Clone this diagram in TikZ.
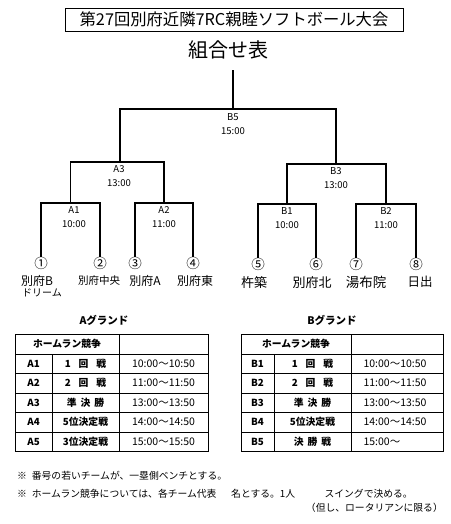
\documentclass[tikz,border=0pt]{standalone}
\usepackage{fontspec}
\setmainfont{Noto Sans CJK JP}
\begin{document}
\begin{tikzpicture}[x=1pt,y=-1pt,
  br/.style={line width=1.3pt, line join=miter},
  lbl/.style={font=\fontsize{9.5}{14}\selectfont, align=center, inner sep=0pt},
  circnum/.style={font=\fontsize{13.5}{14}\selectfont, inner sep=0pt},
  team/.style={font=\fontsize{12}{13}\selectfont, inner sep=0pt},
  tline/.style={line width=0.8pt},
  cell/.style={font=\bfseries\fontsize{9.8}{11}\selectfont, inner sep=0pt},
  tcell/.style={font=\fontsize{10.5}{11}\selectfont, inner sep=0pt},
  note/.style={font=\fontsize{9.8}{11}\selectfont, inner sep=0pt}
]
\useasboundingbox (0,0) rectangle (450,524);
\fill[white] (0,0) rectangle (450,524);

% title
\node[draw, line width=0.9pt, minimum width=338pt, minimum height=23pt, inner sep=0pt,
  font=\fontsize{16.3}{18}\selectfont] (title) at (234,19.5) {第27回別府近隣7RC親睦ソフトボール大会};
\node[font=\fontsize{20}{22}\selectfont, inner sep=0pt] (head) at (228,50) {組合せ表};

% circled numbers
\node[circnum] (n1) at (41,263.5) {①};
\node[circnum] (n2) at (100,263.5) {②};
\node[circnum] (n3) at (135,263.5) {③};
\node[circnum] (n4) at (193,263.5) {④};
\node[circnum] (n5) at (258,264.5) {⑤};
\node[circnum] (n6) at (316,264.5) {⑥};
\node[circnum] (n7) at (356,264.5) {⑦};
\node[circnum] (n8) at (416,264.5) {⑧};

% team names
\node[team] (t1) at (37,281) {別府B};
\node[team, font=\fontsize{10}{11}\selectfont] (t1b) at (42,293) {ドリーム};
\node[team, font=\fontsize{10.5}{12}\selectfont] (t2) at (99,281) {別府中央};
\node[team] (t3) at (145,281) {別府A};
\node[team] (t4) at (195,281) {別府東};
\node[team, font=\fontsize{13}{14}\selectfont] (t5) at (254,283) {杵築};
\node[team, font=\fontsize{13}{14}\selectfont] (t6) at (312,283) {別府北};
\node[team, font=\fontsize{13.5}{14}\selectfont] (t7) at (366,282) {湯布院};
\node[team, font=\fontsize{12.5}{14}\selectfont] (t8) at (420,282) {日出};

% bracket coordinates
\coordinate (A1) at (70.5,203);
\coordinate (A2) at (164,203);
\coordinate (B1) at (287,204);
\coordinate (B2) at (386,204);
\coordinate (A3) at (120,162);
\coordinate (B3) at (336,164);
\coordinate (B5) at (233,109);
\coordinate (top) at (233,70);

\draw[br] (n1.north) |- (A1) -| (n2.north);
\draw[br] (n3.north) |- (A2) -| (n4.north);
\draw[br] (n5.north) |- (B1) -| (n6.north);
\draw[br] (n7.north) |- (B2) -| (n8.north);
\draw[br] (A1) |- (A3) -| (A2);
\draw[br] (B1) |- (B3) -| (B2);
\draw[br] (A3) |- (B5) -| (B3);
\draw[br] (B5) -- (top);

% bracket labels
\node[lbl] (lA1) at (74,217) {A1\\10:00};
\node[lbl] (lA2) at (164,217) {A2\\11:00};
\node[lbl] (lB1) at (287,218) {B1\\10:00};
\node[lbl] (lB2) at (386,218.5) {B2\\11:00};
\node[lbl] (lA3) at (119,176.5) {A3\\13:00};
\node[lbl] (lB3) at (336,178) {B3\\13:00};
\node[lbl] (lB5) at (233,124.5) {B5\\15:00};

% ground titles
\node[cell, font=\bfseries\fontsize{10.5}{11}\selectfont] (ga) at (104,320) {Aグランド};
\node[cell, font=\bfseries\fontsize{10.5}{11}\selectfont] (gb) at (332,320) {Bグランド};

% A table
\draw[tline] (15,334) rectangle (208,451.5);
\foreach \yy in {354,373.5,393,412.5,432} \draw[tline] (15,\yy) -- (208,\yy);
\draw[tline] (52,354) -- (52,451.5);
\draw[tline] (119,334) -- (119,451.5);
\node[cell] (ah) at (67,344) {ホームラン競争};
\node[cell] (a11) at (33.5,363.75) {A1};
\node[cell] (a12) at (85.5,363.75) {1\hspace{0.8em}回\hspace{0.8em}戦};
\node[tcell] (a13) at (163.5,363.75) {10:00〜10:50};
\node[cell] (a21) at (33.5,383.25) {A2};
\node[cell] (a22) at (85.5,383.25) {2\hspace{0.8em}回\hspace{0.8em}戦};
\node[tcell] (a23) at (163.5,383.25) {11:00〜11:50};
\node[cell] (a31) at (33.5,402.75) {A3};
\node[cell] (a32) at (85.5,402.75) {準\hspace{0.4em}決\hspace{0.4em}勝};
\node[tcell] (a33) at (163.5,402.75) {13:00〜13:50};
\node[cell] (a41) at (33.5,422.25) {A4};
\node[cell] (a42) at (85.5,422.25) {5位決定戦};
\node[tcell] (a43) at (163.5,422.25) {14:00〜14:50};
\node[cell] (a51) at (33.5,441.75) {A5};
\node[cell] (a52) at (85.5,441.75) {3位決定戦};
\node[tcell] (a53) at (163.5,441.75) {15:00〜15:50};

% B table
\draw[tline] (241,334) rectangle (443,451.5);
\foreach \yy in {354,373.5,393,412.5,432} \draw[tline] (241,\yy) -- (443,\yy);
\draw[tline] (274,354) -- (274,451.5);
\draw[tline] (351,334) -- (351,451.5);
\node[cell] (bh) at (296,344) {ホームラン競争};
\node[cell] (b11) at (257.5,363.75) {B1};
\node[cell] (b12) at (312.5,363.75) {1\hspace{0.8em}回\hspace{0.8em}戦};
\node[tcell] (b13) at (395,363.75) {10:00〜10:50};
\node[cell] (b21) at (257.5,383.25) {B2};
\node[cell] (b22) at (312.5,383.25) {2\hspace{0.8em}回\hspace{0.8em}戦};
\node[tcell] (b23) at (395,383.25) {11:00〜11:50};
\node[cell] (b31) at (257.5,402.75) {B3};
\node[cell] (b32) at (312.5,402.75) {準\hspace{0.4em}決\hspace{0.4em}勝};
\node[tcell] (b33) at (395,402.75) {13:00〜13:50};
\node[cell] (b41) at (257.5,422.25) {B4};
\node[cell] (b42) at (312.5,422.25) {5位決定戦};
\node[tcell] (b43) at (395,422.25) {14:00〜14:50};
\node[cell] (b51) at (257.5,441.75) {B5};
\node[cell] (b52) at (312.5,441.75) {決\hspace{0.4em}勝\hspace{0.4em}戦};
\node[tcell, anchor=west] (b53) at (b43.west |- 0,441.75) {15:00〜};

% notes
\node[note, anchor=west] (note1) at (17,476) {※\hspace{0.5em}番号の若いチームが、一塁側ベンチとする。};
\node[note, anchor=west] (note2) at (17,494) {※\hspace{0.5em}ホームラン競争については、各チーム代表\hspace{1.5em}名とする。1人\hspace{3em}スイングで決める。};
\node[note, anchor=east] (note3) at (443,508) {（但し、ロータリアンに限る）};
\end{tikzpicture}
\end{document}
